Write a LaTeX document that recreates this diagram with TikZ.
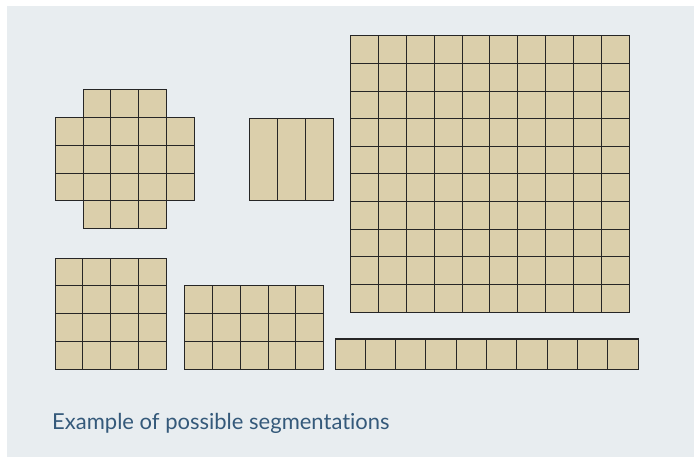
\documentclass[tikz,border=0pt]{standalone}
\usepackage{fontspec}
\setmainfont{Lato}[Ligatures=NoCommon]
\usepackage{tikz}
\usetikzlibrary{positioning}

\definecolor{segbg}{HTML}{E8EDF0}
\definecolor{segfill}{HTML}{DBCFAB}
\definecolor{segtext}{HTML}{34597A}

\begin{document}
\begin{tikzpicture}[x=1pt, y=-1pt, cell/.style={draw=black!85, fill=segfill, line width=1pt}]
		\useasboundingbox (0,0) rectangle (694,457);
		\fill[segbg] (7,6) rectangle (694,457);
		
		% Cross
		\foreach \r/\a/\b in {0/1/3, 1/0/4, 2/0/4, 3/0/4, 4/1/3}
			\foreach \c in {\a,...,\b}
				\draw[cell] (55.3+\c*27.8, 90+\r*27.7) rectangle ++(27.8,27.7);
		
		% Stripes
		\foreach \c in {0,1,2}
			\draw[cell] (249.3+\c*28, 119) rectangle ++(28,81.7);
		
		% 4x4 grid
		\foreach \r in {0,...,3}
			\foreach \c in {0,...,3}
				\draw[cell] (55+\c*27.9, 258.3+\r*27.7) rectangle ++(27.9,27.7);
		
		% 5x3 grid
		\foreach \r in {0,...,2}
			\foreach \c in {0,...,4}
				\draw[cell] (184.3+\c*27.9, 285.7+\r*27.8) rectangle ++(27.9,27.8);
		
		% 10x10 grid
		\foreach \r in {0,...,9}
			\foreach \c in {0,...,9}
				\draw[cell] (350.7+\c*27.83, 35.7+\r*27.66) rectangle ++(27.83,27.66);
		
		% Strip
		\foreach \c in {0,...,9}
			\draw[cell] (335+\c*30.33, 339) rectangle ++(30.33,30.3);
		
		\node[anchor=base west, inner sep=0, text=segtext, font=\fontsize{22}{26}\selectfont] (caption) at (52,429) {Example of possible segmentations};
	\end{tikzpicture}
\end{document}
